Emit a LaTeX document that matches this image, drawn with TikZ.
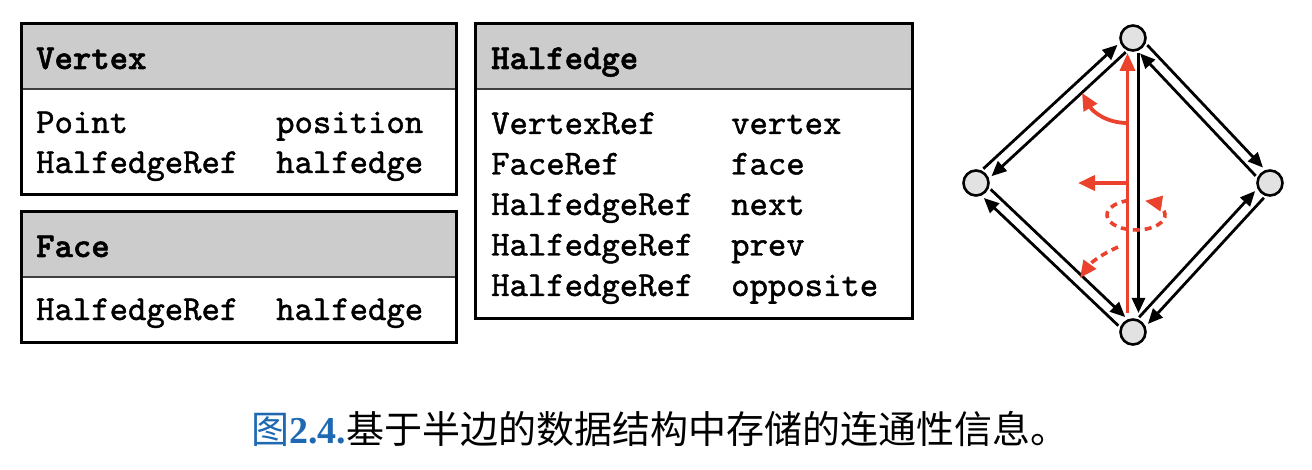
\documentclass[tikz,border=0pt]{standalone}
\usepackage{fontspec}
\newfontfamily\cjkfont{Noto Sans CJK SC}
\newfontfamily\numfont{Liberation Serif}
\newfontfamily\codefont{lmmono10-regular.otf}[RawFeature={embolden=1.3}]
\newfontfamily\codebold{lmmonolt10-bold.otf}[RawFeature={embolden=1.5}]
\usetikzlibrary{arrows.meta,calc}
\definecolor{hdrgray}{RGB}{204,204,204}
\definecolor{vgray}{RGB}{226,226,226}
\definecolor{hered}{RGB}{234,66,44}
\definecolor{capblue}{RGB}{31,105,178}
\tikzset{
  boxframe/.style={draw=black, line width=3pt},
  divider/.style={draw=black!75, line width=1.5pt},
  code/.style={anchor=base west, inner sep=0pt, font=\fontsize{35}{40}\codefont},
  codehdr/.style={anchor=base west, inner sep=0pt, font=\fontsize{35}{40}\codebold},
  vtx/.style={circle, draw=black, line width=2.6pt, fill=vgray, minimum size=25pt, inner sep=0pt},
  blacktip/.style={-{Triangle[length=15pt,width=13pt]}},
  hedge/.style={draw=black, line width=2.8pt, blacktip, shorten <=15pt, shorten >=16pt},
  redline/.style={draw=hered, line width=3.8pt},
  reddash/.style={draw=hered, line width=3.6pt, dash pattern=on 7pt off 5pt},
  redtip/.style={-{Triangle[length=17pt,width=15pt]}},
}
\newcommand\halfedgeline[2]{\draw[hedge] ($(#1)!5.5pt!90:(#2)$) -- ($(#2)!5.5pt!-90:(#1)$);}
\begin{document}
\begin{tikzpicture}[x=1pt,y=-1pt]
\useasboundingbox (0,0) rectangle (1312,470);
% ---------- Vertex ----------
\fill[hdrgray] (21,24) rectangle (456,89);
\draw[divider] (21,89) -- (456,89);
\draw[boxframe] (21,24) rectangle (456,195);
\node[codehdr] (vt) at (36,69) {Vertex};
\node[code] (va1) at (36,133) {Point};
\node[code] (va2) at (276,133) {position};
\node[code] (vb1) at (36,173) {HalfedgeRef};
\node[code] (vb2) at (276,173) {halfedge};
% ---------- Face ----------
\fill[hdrgray] (21,212) rectangle (456,277);
\draw[divider] (21,277) -- (456,277);
\draw[boxframe] (21,212) rectangle (456,343);
\node[codehdr] (ft) at (36,257) {Face};
\node[code] (fa1) at (36,320) {HalfedgeRef};
\node[code] (fa2) at (276,320) {halfedge};
% ---------- Halfedge ----------
\fill[hdrgray] (475,24) rectangle (912,89);
\draw[divider] (475,89) -- (912,89);
\draw[boxframe] (475,24) rectangle (912,319);
\node[codehdr] (ht) at (491,69) {Halfedge};
\node[code] (ha1) at (491,134) {VertexRef};
\node[code] (ha2) at (731,134) {vertex};
\node[code] (hb1) at (491,174.5) {FaceRef};
\node[code] (hb2) at (731,174.5) {face};
\node[code] (hc1) at (491,215) {HalfedgeRef};
\node[code] (hc2) at (731,215) {next};
\node[code] (hd1) at (491,255.5) {HalfedgeRef};
\node[code] (hd2) at (731,255.5) {prev};
\node[code] (he1) at (491,296) {HalfedgeRef};
\node[code] (he2) at (731,296) {opposite};
% ---------- mesh diagram ----------
\node[vtx] (T) at (1133,38) {};
\node[vtx] (L) at (976,183) {};
\node[vtx] (R) at (1270,183) {};
\node[vtx] (B) at (1133,332) {};
\halfedgeline{L}{T}
\halfedgeline{T}{L}
\halfedgeline{T}{R}
\halfedgeline{R}{T}
\halfedgeline{R}{B}
\halfedgeline{B}{R}
\halfedgeline{B}{L}
\halfedgeline{L}{B}
% black opposite half-edge
\draw[draw=black, line width=2.8pt, blacktip, shorten <=15pt, shorten >=19pt]
  ($(T)!5.5pt!90:(B)$) -- ($(B)!5.5pt!-90:(T)$);
% red half-edge
\draw[redline, -{Triangle[length=18pt,width=15pt]}, shorten <=19pt, shorten >=15pt]
  ($(B)!5.5pt!90:(T)$) -- ($(T)!5.5pt!-90:(B)$);
% next
\coordinate (nxs) at (1127.5,123);
\coordinate (nxe) at (1082,93);
\draw[redline, redtip] (nxs) to[out=180,in=-60] (nxe);
% face
\coordinate (fcs) at (1127.5,183);
\coordinate (fce) at (1078,183);
\draw[redline, redtip] (fcs) -- (fce);
% opposite
\coordinate (oc) at (1136,215);
\draw[reddash, redtip] ($(oc)+(105:29pt and 15pt)$)
  arc[start angle=105, end angle=432, x radius=29pt, y radius=15pt];
% prev
\coordinate (pvs) at (1118,247);
\coordinate (pve) at (1080,278);
\draw[reddash, redtip] (pvs) to[bend right=15] (pve);
% ---------- caption ----------
\node[anchor=base west, inner sep=0pt, font=\fontsize{38}{44}\selectfont] (cap) at (251,443)
  {\textcolor{capblue}{\cjkfont 图\numfont\bfseries 2.4.}\cjkfont 基于半边的数据结构中存储的连通性信息。};
\end{tikzpicture}
\end{document}
